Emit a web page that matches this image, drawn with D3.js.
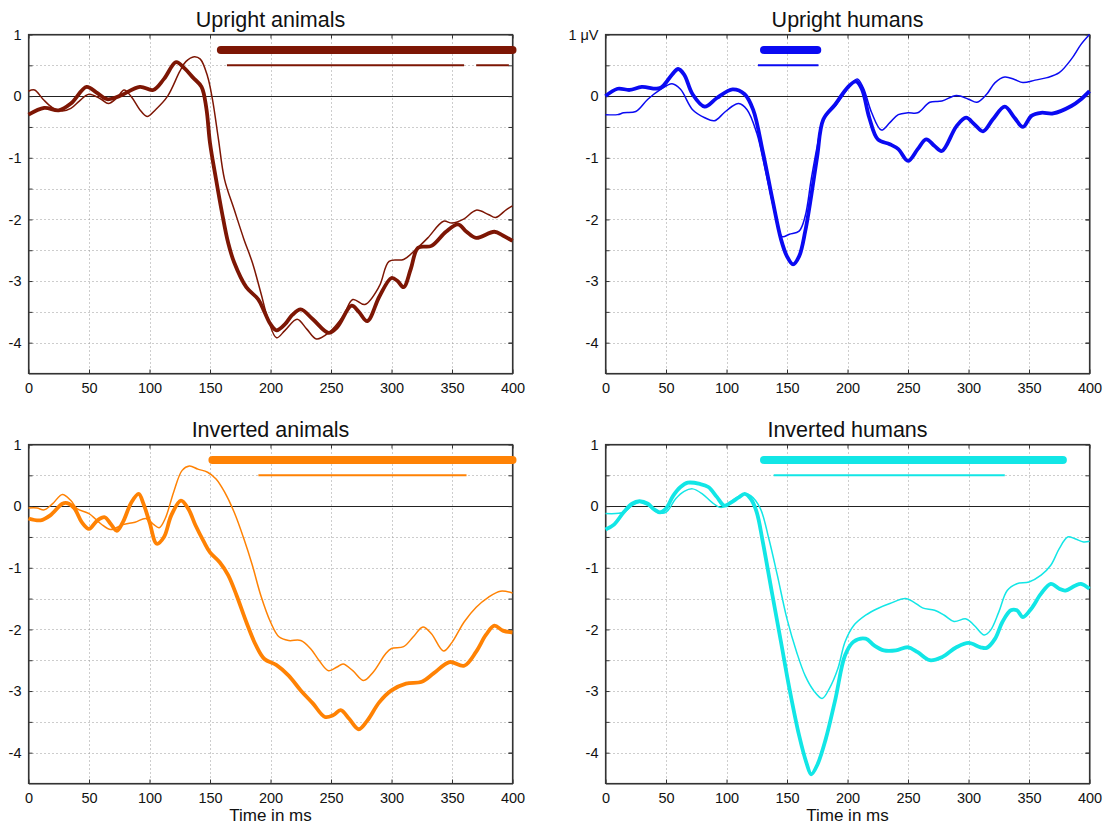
<!DOCTYPE html>
<html>
<head>
<meta charset="utf-8">
<script src="https://cdn.jsdelivr.net/npm/d3@7"></script>
<style>
html,body{margin:0;padding:0;background:#fff;}
svg{display:block;font-family:"Liberation Sans",Arial,Helvetica,sans-serif;}
</style>
</head>
<body>
<svg id="chart" width="1109" height="825"></svg>
<script>
// ---------- data ----------
const titles = ["Upright animals", "Upright humans", "Inverted animals", "Inverted humans"];
const colors = ["#7d1604", "#0a0af2", "#ff8204", "#12e6e6"];
const xTicks = [0, 50, 100, 150, 200, 250, 300, 350, 400];
const yTicks = [1, 0, -1, -2, -3, -4];
const yGrid = [0.5, -0.5, -1, -1.5, -2, -2.5, -3, -3.5, -4];
const xLabel = "Time in ms";
const unitLabel = "1 \u03bcV";

// Upright animals
const uaThick = [[0,-0.30],[13,-0.19],[25,-0.23],[35,-0.12],[48,0.15],[56,0.06],[65,-0.05],[75,0.0],[92,0.15],[103,0.10],[112,0.28],[122,0.55],[129,0.45],[136,0.30],[143,0.15],[147,-0.2],[150,-0.76],[155,-1.35],[160,-1.9],[165,-2.38],[170,-2.7],[180,-3.1],[190,-3.3],[195,-3.5],[200,-3.7],[205,-3.8],[212,-3.7],[218,-3.55],[225,-3.46],[235,-3.62],[248,-3.84],[255,-3.75],[267,-3.4],[273,-3.5],[280,-3.65],[290,-3.25],[300,-2.95],[305,-3.0],[310,-3.1],[316,-2.8],[322,-2.46],[333,-2.43],[345,-2.2],[355,-2.08],[362,-2.2],[370,-2.3],[385,-2.2],[392,-2.26],[400,-2.35]];
const uaThin = [[0,0.08],[5,0.10],[12,-0.05],[20,-0.19],[28,-0.24],[35,-0.2],[42,-0.08],[50,0.03],[60,-0.05],[66,-0.12],[73,-0.03],[79,0.10],[85,-0.01],[92,-0.22],[98,-0.33],[105,-0.22],[115,0.0],[125,0.40],[130,0.56],[137,0.64],[142,0.6],[148,0.32],[152,-0.05],[157,-0.7],[162,-1.35],[170,-1.84],[178,-2.32],[185,-2.7],[192,-3.19],[198,-3.62],[205,-3.92],[212,-3.8],[222,-3.62],[230,-3.78],[238,-3.94],[248,-3.84],[260,-3.57],[268,-3.3],[278,-3.38],[290,-3.08],[298,-2.68],[310,-2.65],[320,-2.49],[330,-2.3],[343,-2.03],[350,-2.06],[360,-1.99],[370,-1.85],[380,-1.92],[386,-1.97],[395,-1.84],[400,-1.78]];
const uaSigThick = [[159, 400]];
const uaSigThin = [[164, 360], [370, 397]];

// Upright humans
const uhThick = [[0,0.0],[10,0.12],[20,0.10],[30,0.15],[45,0.13],[55,0.35],[60,0.44],[65,0.35],[72,0.03],[82,-0.17],[92,-0.03],[105,0.11],[115,0.03],[122,-0.22],[130,-0.9],[138,-1.68],[145,-2.32],[150,-2.6],[155,-2.73],[160,-2.6],[165,-2.2],[170,-1.62],[175,-0.97],[180,-0.38],[190,-0.13],[200,0.14],[207,0.24],[212,0.11],[218,-0.35],[225,-0.7],[235,-0.78],[242,-0.86],[250,-1.05],[258,-0.86],[265,-0.7],[272,-0.81],[278,-0.89],[290,-0.49],[298,-0.35],[305,-0.46],[312,-0.57],[320,-0.38],[330,-0.17],[338,-0.35],[345,-0.5],[352,-0.32],[360,-0.27],[370,-0.28],[385,-0.16],[393,-0.05],[400,0.08]];
const uhThin = [[0,-0.3],[10,-0.3],[15,-0.27],[25,-0.25],[35,-0.05],[45,0.10],[55,0.20],[62,0.11],[72,-0.22],[82,-0.35],[90,-0.40],[98,-0.27],[105,-0.16],[110,-0.12],[117,-0.22],[125,-0.6],[132,-1.19],[140,-1.9],[146,-2.28],[152,-2.24],[160,-2.19],[165,-1.95],[170,-1.35],[175,-0.81],[180,-0.38],[190,-0.16],[200,0.11],[208,0.28],[213,0.14],[220,-0.27],[228,-0.55],[235,-0.43],[242,-0.3],[250,-0.27],[258,-0.27],[268,-0.1],[278,-0.08],[290,0.01],[300,-0.05],[307,-0.1],[315,0.03],[322,0.22],[330,0.31],[338,0.27],[345,0.22],[355,0.26],[365,0.30],[375,0.38],[385,0.6],[393,0.84],[400,1.0]];
const uhSigThick = [[131, 175]];
const uhSigThin = [[126, 176]];

// Inverted animals
const iaThick = [[0,-0.2],[10,-0.23],[18,-0.15],[28,0.04],[32,0.05],[38,-0.04],[44,-0.26],[50,-0.37],[57,-0.23],[63,-0.18],[68,-0.29],[73,-0.4],[78,-0.26],[85,0.06],[91,0.2],[95,0.04],[100,-0.26],[106,-0.61],[112,-0.5],[118,-0.15],[126,0.09],[132,-0.04],[138,-0.31],[145,-0.58],[150,-0.75],[158,-0.91],[165,-1.12],[172,-1.45],[180,-1.88],[188,-2.26],[195,-2.48],[205,-2.58],[215,-2.75],[225,-2.99],[235,-3.2],[245,-3.42],[252,-3.39],[258,-3.31],[265,-3.45],[273,-3.62],[280,-3.48],[290,-3.18],[300,-2.99],[312,-2.88],[325,-2.85],[335,-2.71],[348,-2.53],[360,-2.59],[370,-2.36],[378,-2.09],[385,-1.94],[392,-2.02],[400,-2.05]];
const iaThin = [[0,-0.03],[7,-0.03],[13,-0.06],[20,0.04],[28,0.19],[35,0.09],[40,-0.04],[50,-0.12],[60,-0.29],[68,-0.38],[78,-0.3],[88,-0.26],[97,-0.2],[103,-0.29],[108,-0.35],[113,-0.2],[120,0.23],[127,0.58],[133,0.65],[140,0.6],[148,0.55],[155,0.44],[162,0.23],[170,-0.1],[178,-0.53],[185,-0.96],[192,-1.45],[200,-1.88],[207,-2.12],[215,-2.18],[225,-2.18],[233,-2.31],[240,-2.5],[248,-2.67],[255,-2.61],[260,-2.56],[268,-2.67],[277,-2.83],[285,-2.69],[295,-2.4],[300,-2.31],[310,-2.28],[318,-2.12],[326,-1.96],[333,-2.07],[343,-2.35],[350,-2.21],[360,-1.88],[370,-1.64],[380,-1.48],[390,-1.38],[400,-1.41]];
const iaSigThick = [[152, 400]];
const iaSigThin = [[190, 362]];

// Inverted humans
const ihThick = [[0,-0.38],[7,-0.3],[15,-0.1],[22,0.04],[28,0.08],[35,0.04],[40,-0.05],[45,-0.1],[50,-0.04],[56,0.17],[62,0.31],[68,0.38],[78,0.36],[85,0.31],[92,0.15],[98,0.01],[103,0.05],[110,0.14],[115,0.2],[120,0.12],[125,-0.1],[130,-0.58],[138,-1.45],[145,-2.2],[152,-2.96],[160,-3.72],[166,-4.16],[170,-4.35],[175,-4.2],[182,-3.78],[190,-3.13],[198,-2.42],[205,-2.2],[215,-2.15],[222,-2.26],[230,-2.34],[240,-2.34],[250,-2.29],[258,-2.37],[268,-2.5],[278,-2.45],[290,-2.29],[300,-2.22],[310,-2.29],[315,-2.3],[322,-2.15],[328,-1.88],[335,-1.69],[340,-1.69],[345,-1.8],[352,-1.66],[360,-1.42],[368,-1.26],[375,-1.34],[380,-1.37],[388,-1.29],[393,-1.26],[400,-1.34]];
const ihThin = [[0,-0.12],[15,-0.1],[22,0.01],[28,0.06],[35,0.01],[43,-0.1],[50,-0.1],[58,0.12],[65,0.24],[72,0.28],[80,0.2],[88,0.06],[95,-0.02],[100,0.01],[107,0.12],[115,0.2],[120,0.17],[128,-0.04],[135,-0.53],[142,-1.12],[150,-1.83],[158,-2.37],[165,-2.75],[172,-2.99],[179,-3.12],[185,-2.96],[192,-2.64],[198,-2.2],[205,-1.94],[215,-1.77],[225,-1.66],[235,-1.58],[248,-1.5],[255,-1.56],[262,-1.65],[272,-1.69],[280,-1.77],[288,-1.87],[298,-1.83],[305,-1.94],[313,-2.09],[318,-2.02],[325,-1.72],[332,-1.37],[340,-1.26],[350,-1.23],[360,-1.12],[368,-0.96],[375,-0.69],[382,-0.5],[388,-0.53],[395,-0.58],[400,-0.57]];
const ihSigThick = [[131, 378]];
const ihSigThin = [[139, 330]];

const thickSeries = [uaThick, uhThick, iaThick, ihThick];
const thinSeries = [uaThin, uhThin, iaThin, ihThin];
const sigThick = [uaSigThick, uhSigThick, iaSigThick, ihSigThick];
const sigThin = [uaSigThin, uhSigThin, iaSigThin, ihSigThin];

// ---------- layout ----------
const panels = [
  {x0: 28.5, x1: 512.5, y0: 34.5, y1: 373.5},
  {x0: 605.5, x1: 1089.5, y0: 34.5, y1: 373.5},
  {x0: 28.5, x1: 512.5, y0: 444.5, y1: 783.5},
  {x0: 605.5, x1: 1089.5, y0: 444.5, y1: 783.5}
];

const svg = d3.select("#chart");

panels.forEach((p, i) => {
  const x = d3.scaleLinear().domain([0, 400]).range([p.x0, p.x1]);
  const y = d3.scaleLinear().domain([-4.5, 1]).range([p.y1, p.y0]);
  const g = svg.append("g");
  const col = colors[i];

  // grid
  g.append("g").selectAll("line").data(xTicks.slice(1, -1)).join("line")
    .attr("x1", d => Math.round(x(d)) + 0.5).attr("x2", d => Math.round(x(d)) + 0.5)
    .attr("y1", p.y0).attr("y2", p.y1)
    .attr("stroke", "#9a9a9a").attr("stroke-width", 1).attr("stroke-dasharray", "1,3");
  g.append("g").selectAll("line").data(yGrid).join("line")
    .attr("x1", p.x0).attr("x2", p.x1)
    .attr("y1", d => Math.round(y(d)) + 0.5).attr("y2", d => Math.round(y(d)) + 0.5)
    .attr("stroke", "#9a9a9a").attr("stroke-width", 1).attr("stroke-dasharray", "1,3");

  // zero line
  g.append("line").attr("x1", p.x0).attr("x2", p.x1)
    .attr("y1", Math.round(y(0)) + 0.5).attr("y2", Math.round(y(0)) + 0.5)
    .attr("stroke", "#222").attr("stroke-width", 1);

  // axes (inward ticks)
  const xb = d3.axisBottom(x).tickValues(xTicks).tickSizeInner(-4).tickSizeOuter(0).tickPadding(9);
  g.append("g").attr("transform", `translate(0,${p.y1})`).call(xb);
  const xt = d3.axisTop(x).tickValues(xTicks).tickSizeInner(-4).tickSizeOuter(0).tickFormat("");
  g.append("g").attr("transform", `translate(0,${p.y0})`).call(xt);
  const yl = d3.axisLeft(y).tickValues(yTicks.concat(yGrid.filter(v => !Number.isInteger(v)))).tickSizeInner(-4).tickSizeOuter(0).tickPadding(7)
    .tickFormat(d => Number.isInteger(d) ? (i === 1 && d === 1 ? unitLabel : String(d)) : "");
  g.append("g").attr("transform", `translate(${p.x0},0)`).call(yl);
  const yr = d3.axisRight(y).tickValues(yTicks.concat(yGrid)).tickSizeInner(-4).tickSizeOuter(0).tickFormat("");
  g.append("g").attr("transform", `translate(${p.x1},0)`).call(yr);
  g.selectAll(".domain").attr("stroke", "#333");
  g.selectAll(".tick line").attr("stroke", "#333");
  g.selectAll(".tick text").attr("font-size", 14.5).attr("fill", "#111")
    .attr("font-family", "'Liberation Sans', Arial, sans-serif");
  // box
  g.append("rect").attr("x", p.x0).attr("y", p.y0).attr("width", p.x1 - p.x0).attr("height", p.y1 - p.y0)
    .attr("fill", "none").attr("stroke", "#333").attr("stroke-width", 1.2);

  // curves
  const line = d3.line().x(d => x(d[0])).y(d => y(d[1])).curve(d3.curveCatmullRom.alpha(0.5));
  g.append("path").datum(thinSeries[i]).attr("d", line)
    .attr("fill", "none").attr("stroke", col).attr("stroke-width", 1.5).attr("stroke-linejoin", "round");
  g.append("path").datum(thickSeries[i]).attr("d", line)
    .attr("fill", "none").attr("stroke", col).attr("stroke-width", 3.8).attr("stroke-linejoin", "round");

  // significance bars
  g.append("g").selectAll("line").data(sigThick[i]).join("line")
    .attr("x1", d => x(d[0])).attr("x2", d => x(d[1]))
    .attr("y1", y(0.75)).attr("y2", y(0.75))
    .attr("stroke", col).attr("stroke-width", 8).attr("stroke-linecap", "round");
  g.append("g").selectAll("line").data(sigThin[i]).join("line")
    .attr("x1", d => x(d[0])).attr("x2", d => x(d[1]))
    .attr("y1", y(0.5)).attr("y2", y(0.5))
    .attr("stroke", col).attr("stroke-width", 2);

  // title
  g.append("text").attr("x", (p.x0 + p.x1) / 2).attr("y", p.y0 - 8)
    .attr("text-anchor", "middle").attr("font-size", 21.5).attr("fill", "#111").text(titles[i]);

  if (i >= 2) {
    g.append("text").attr("x", (p.x0 + p.x1) / 2).attr("y", p.y1 + 37)
      .attr("text-anchor", "middle").attr("font-size", 17).attr("fill", "#111").text(xLabel);
  }
});
</script>
</body>
</html>
